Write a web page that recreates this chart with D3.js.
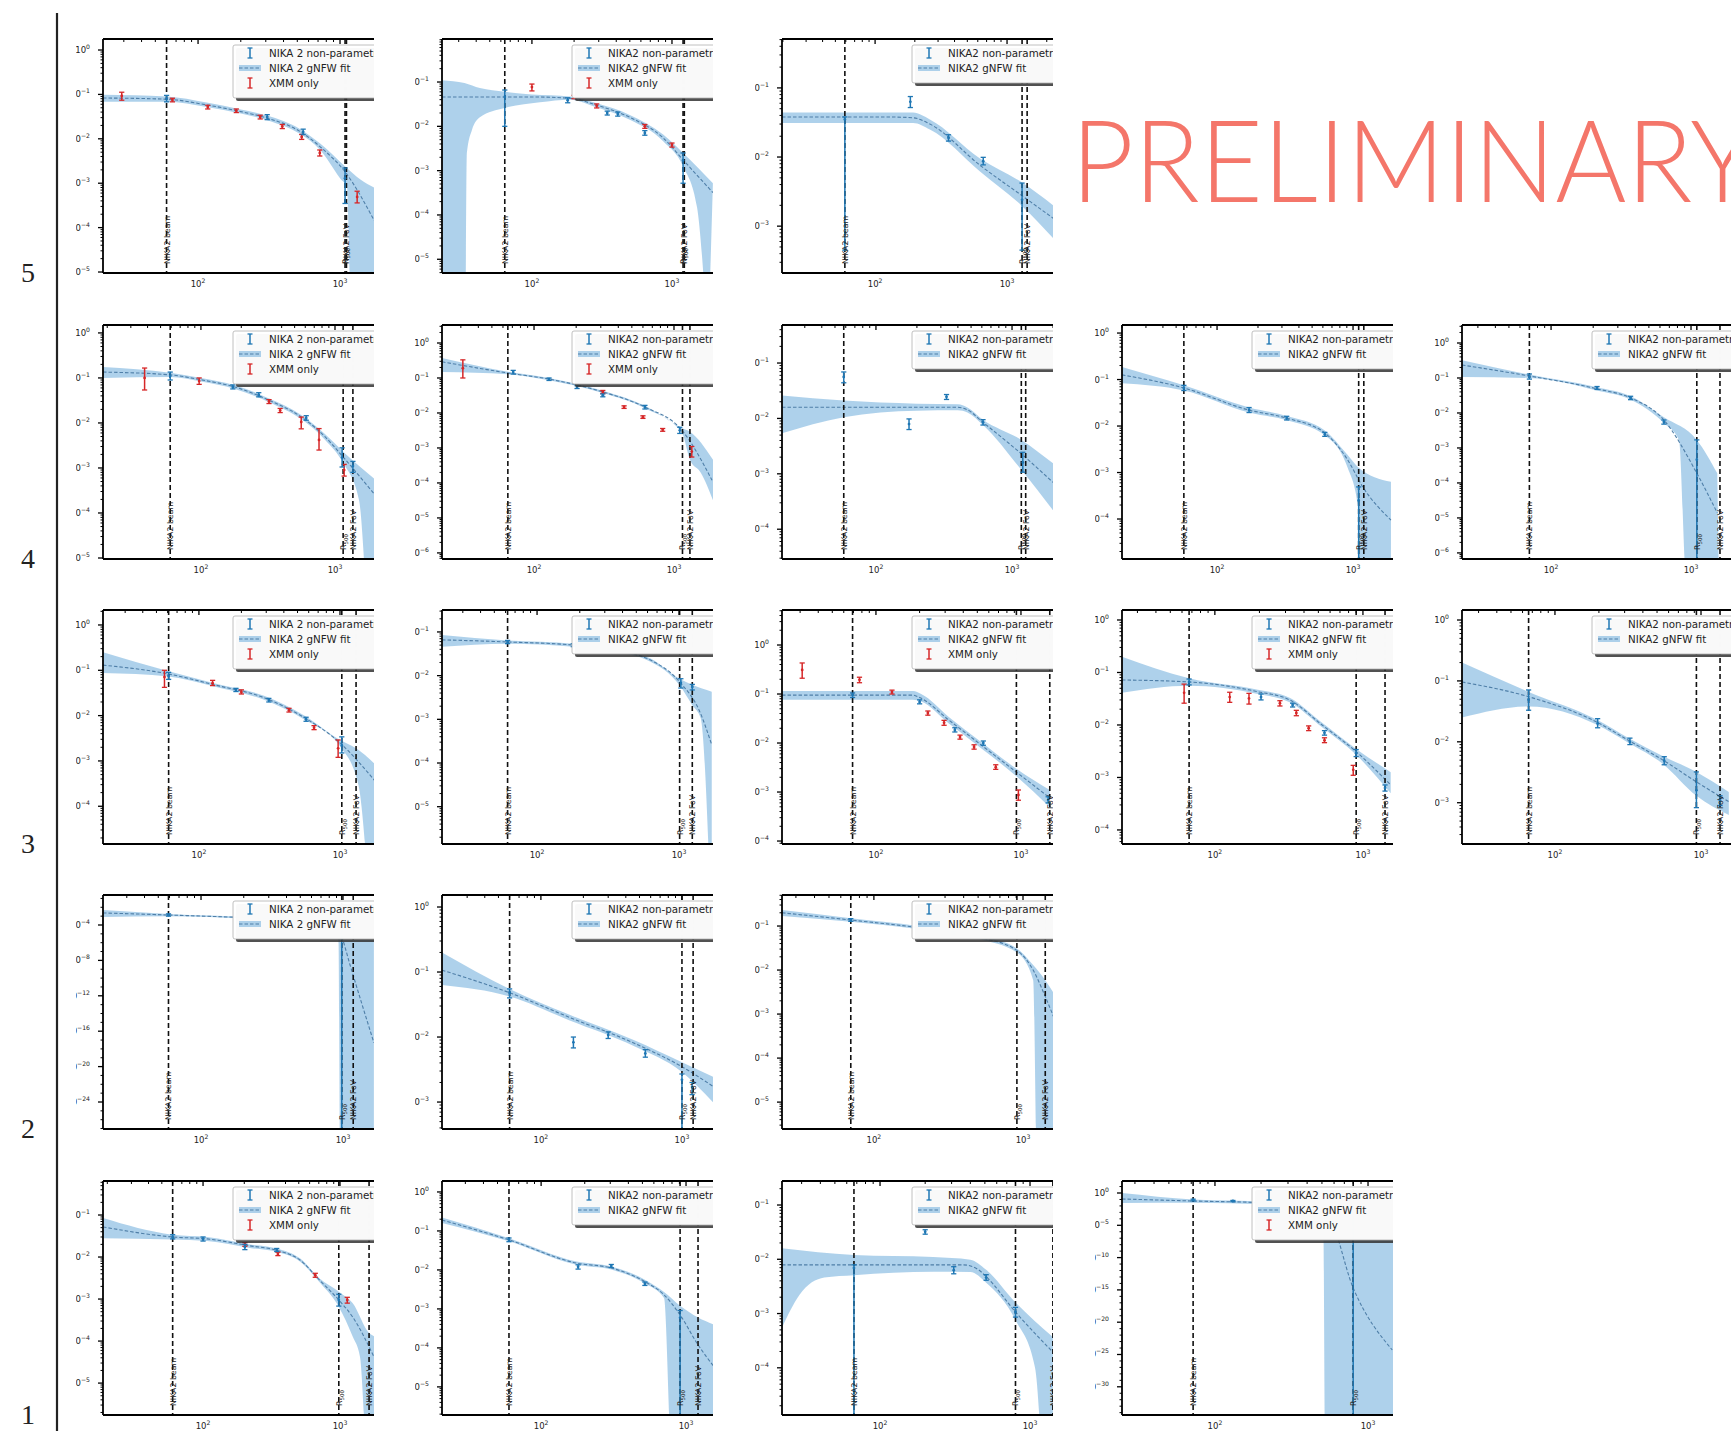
<!DOCTYPE html>
<html>
<head>
<meta charset="utf-8">
<script src="https://cdn.jsdelivr.net/npm/d3@7"></script>
<style>
  body { margin: 0; background: #fff; }
  svg { display: block; }
</style>
</head>
<body>
<svg id="fig" width="1731" height="1431"></svg>
<script>
// ---------------------------------------------------------------------------
// Pressure profiles P(r) of the cluster sample, grouped by row (5 .. 1).
// Panels are listed row by row, left to right.
// ---------------------------------------------------------------------------
const rowNames = ["5", "4", "3", "2", "1"];
const panelRow = [5,5,5, 4,4,4,4,4, 3,3,3,3,3, 2,2,2, 1,1,1,1];
const panelCol = [1,2,3, 1,2,3,4,5, 1,2,3,4,5, 1,2,3, 1,2,3,4];

// visible radius range of each panel [kpc]
const radiusRange = [
  [21.4,1735],[22.8,1963],[19.7,2230],
  [18.6,1954],[22.0,1900],[20.4,2000],[20.0,1967],[23.1,1995],
  [20.9,1742],[21.4,1735],[22.5,1663],[23.6,1596],[23.1,1656],
  [20.4,1653],[19.9,1660],[24.2,1589],
  [18.6,1771],[20.7,1535],[22.2,1423],[24.7,1456]
];
// pressure range of each panel [keV cm^-3]
const pressureRange = [
  [9.5e-6,1.77],[4.9e-6,0.935],[2.1e-4,0.51],
  [9.5e-6,1.5],[6.7e-7,3.27],[2.9e-5,0.486],[1.38e-5,1.49],[6.7e-7,3.27],
  [1.47e-5,2.14],[1.4e-6,0.318],[8.7e-5,5.18],[5.4e-5,1.55],[2.1e-4,1.46],
  [8.9e-28,0.245],[3.85e-4,1.53],[2.45e-6,0.507],
  [1.74e-6,0.645],[1.9e-6,1.91],[1.35e-5,0.277],[4.3e-35,72]
];
// labelled decades on the pressure axis
const pressureTicks = [
  [0,-1,-2,-3,-4,-5],[-1,-2,-3,-4,-5],[-1,-2,-3],
  [0,-1,-2,-3,-4,-5],[0,-1,-2,-3,-4,-5,-6],[-1,-2,-3,-4],[0,-1,-2,-3,-4],[0,-1,-2,-3,-4,-5,-6],
  [0,-1,-2,-3,-4],[-1,-2,-3,-4,-5],[0,-1,-2,-3,-4],[0,-1,-2,-3,-4],[0,-1,-2,-3],
  [-4,-8,-12,-16,-20,-24],[0,-1,-2,-3],[-1,-2,-3,-4,-5],
  [-1,-2,-3,-4,-5],[0,-1,-2,-3,-4,-5],[-1,-2,-3,-4],[0,-5,-10,-15,-20,-25,-30]
];
const radiusTicks = [100, 1000];

// reference radii [kpc]
const beamRadius = [60,64,59, 59,65,58,57,70, 61,62,69,67,66, 59,60,70, 60,60,67,72];
const r500Radius = [1085,1200,1300, 1150,1150,1170,1100,1100, 1030,1010,930,900,930, 980,1000,910, 980,910,800,800];
const fovRadius  = [1110,1225,1420, 1360,1300,1260,1200,1610, 1300,1240,1580,1410,1350, 1180,1200,1410, 1630,1210,1420,null];

// legend wording
const legendNika = ["NIKA 2","NIKA2","NIKA2", "NIKA 2","NIKA2","NIKA2","NIKA2","NIKA2",
                    "NIKA 2","NIKA2","NIKA2","NIKA2","NIKA2", "NIKA 2","NIKA2","NIKA2",
                    "NIKA 2","NIKA2","NIKA2","NIKA2"];
const legendXmm = [1,1,0, 1,1,0,0,0, 1,0,1,1,0, 0,0,0, 1,0,0,1];

// gNFW best fit [r, P]
const fitLine = [
  [[21.4,0.083],[60,0.078],[115,0.058],[200,0.041],[310,0.029],[525,0.0145],[725,0.0066],[1100,0.0017],[1760,1.35e-4]],
  [[22.8,0.046],[100,0.046],[187,0.043],[290,0.030],[500,0.016],[865,0.0055],[1200,0.00175],[1960,3.2e-4]],
  [[19.7,0.038],[120,0.038],[194,0.037],[260,0.03],[624,0.0076],[1320,0.0027],[2240,0.0013]],
  [[18.6,0.135],[59,0.117],[100,0.091],[179,0.063],[322,0.032],[560,0.0136],[845,0.0049],[1150,0.00175],[2040,2.3e-4]],
  [[22,0.29],[65,0.139],[128,0.093],[310,0.04],[620,0.0148],[1140,0.0032],[1870,1.2e-4]],
  [[20.4,0.0159],[400,0.0159],[470,0.0143],[612,0.0085],[1170,0.0023],[2000,7e-4]],
  [[20,0.126],[57,0.066],[172,0.022],[325,0.0148],[620,0.0071],[910,0.0019],[1180,4.9e-4],[1900,9.5e-5]],
  [[23.1,0.235],[70,0.114],[213,0.049],[370,0.027],[640,0.0063],[1100,1.9e-4],[1540,1.4e-5]],
  [[20.9,0.13],[61,0.083],[128,0.048],[293,0.0245],[550,0.0093],[1000,0.0025],[1800,3.4e-4]],
  [[21.4,0.066],[62,0.059],[180,0.05],[330,0.039],[625,0.023],[1010,0.0072],[1400,0.0015],[1700,2.6e-4]],
  [[22.5,0.095],[180,0.095],[200,0.085],[318,0.0295],[520,0.0096],[930,0.00255],[1580,7.6e-4]],
  [[23.6,0.072],[67,0.066],[195,0.043],[320,0.03],[530,0.01],[900,0.0031],[1540,7.2e-4]],
  [[23.1,0.096],[66,0.055],[194,0.021],[316,0.0107],[550,0.005],[930,0.0022],[1550,0.00104]],
  [[20.4,0.0023],[59,0.00135],[225,6.3e-4],[600,2.8e-4],[865,1.7e-4],[980,4.4e-6],[1120,3.2e-9],[1650,5e-18]],
  [[19.9,0.107],[60,0.048],[160,0.02],[455,0.0081],[1000,0.0035],[1690,0.0017]],
  [[24.2,0.2],[70,0.137],[207,0.09],[500,0.056],[910,0.028],[1170,0.01],[1410,0.0025],[1710,5e-4]],
  [[18.6,0.052],[60,0.03],[107,0.027],[220,0.0185],[345,0.0145],[510,0.0085],[710,0.0028],[980,9.5e-4],[1240,3.7e-4],[1771,4.2e-5]],
  [[20.7,0.19],[60,0.059],[175,0.015],[305,0.0112],[520,0.005],[705,0.0023],[910,7e-4],[1210,1.2e-4],[1580,3.1e-5]],
  [[22.2,0.0079],[360,0.0079],[450,0.0065],[510,0.0048],[800,0.00107],[1420,1.95e-4]],
  [[24.7,0.117],[72,0.058],[218,0.028],[438,0.0068],[540,8e-4],[800,2e-15],[1440,5e-25]]
];
// upper edge of the fit confidence band [r, P]
const bandUpper = [
  [[21.4,0.098],[60,0.09],[115,0.066],[200,0.046],[310,0.033],[525,0.0165],[725,0.0078],[1100,0.0023],[1400,0.0012],[1760,7.8e-4]],
  [[22.8,0.11],[33,0.095],[42.5,0.073],[64,0.06],[100,0.052],[187,0.047],[290,0.033],[500,0.018],[865,0.0065],[1200,0.0025],[1960,5.2e-4]],
  [[19.7,0.044],[194,0.044],[260,0.035],[624,0.0095],[1320,0.0042],[2240,0.002]],
  [[18.6,0.174],[59,0.13],[100,0.1],[179,0.069],[322,0.035],[560,0.015],[845,0.0056],[1150,0.0023],[2020,5.4e-4]],
  [[22,0.37],[65,0.15],[128,0.1],[310,0.043],[620,0.016],[1140,0.0037],[1300,0.0029],[1900,4.6e-4]],
  [[20.4,0.026],[58,0.021],[200,0.0185],[400,0.018],[470,0.0158],[612,0.0095],[1170,0.0041],[2000,0.00155]],
  [[20,0.186],[57,0.075],[172,0.025],[325,0.0165],[620,0.008],[910,0.0024],[1090,0.0013],[1900,6.3e-4]],
  [[23.1,0.32],[70,0.125],[213,0.054],[370,0.03],[640,0.0075],[1100,0.0017],[1540,1.9e-4]],
  [[20.9,0.25],[61,0.095],[128,0.052],[293,0.027],[550,0.0103],[1000,0.0029],[1300,0.0019],[1800,8.1e-4]],
  [[21.4,0.085],[62,0.064],[180,0.054],[330,0.042],[625,0.025],[1010,0.0085],[1240,0.0062],[1700,0.0043]],
  [[22.5,0.115],[180,0.115],[205,0.1],[318,0.034],[520,0.011],[930,0.003],[1580,0.0011]],
  [[23.6,0.2],[67,0.078],[195,0.047],[320,0.033],[530,0.011],[900,0.0035],[1540,0.00126]],
  [[23.1,0.2],[66,0.066],[194,0.023],[316,0.0117],[550,0.0058],[930,0.0032],[1550,0.0015]],
  [[20.4,0.005],[59,0.0018],[225,8e-4],[865,2.2e-4],[940,4e-5],[1000,2e-6],[1650,2e-6]],
  [[19.9,0.2],[60,0.055],[160,0.022],[455,0.009],[1000,0.0041],[1690,0.0024]],
  [[24.2,0.23],[70,0.15],[207,0.098],[500,0.061],[910,0.031],[1170,0.013],[1410,0.0059],[1710,0.0021]],
  [[18.6,0.085],[60,0.034],[107,0.03],[220,0.02],[345,0.016],[510,0.0093],[710,0.0031],[980,0.0015],[1240,7.9e-4],[1630,1.55e-4],[1771,1.3e-4]],
  [[20.7,0.22],[60,0.065],[175,0.0165],[305,0.0123],[520,0.0056],[705,0.0027],[910,0.0012],[1210,6e-4],[1580,3.9e-4]],
  [[22.2,0.016],[67,0.012],[226,0.011],[400,0.0098],[510,0.0064],[800,0.0016],[1420,3.7e-4]],
  [[24.7,1.0],[72,0.1],[218,0.045],[438,0.012],[510,0.004],[524,6.3e-5],[1456,6.3e-5]]
];
// lower edge of the fit confidence band [r, P]
const bandLower = [
  [[21.4,0.068],[60,0.068],[115,0.052],[200,0.037],[310,0.026],[525,0.0128],[725,0.0056],[1000,0.0013],[1120,8e-4],[1175,5e-6],[1250,1e-7],[1760,1e-8]],
  [[22.8,1e-9],[33,1e-9],[34.3,0.0025],[37.3,0.0083],[42.5,0.016],[64,0.026],[114,0.035],[187,0.04],[290,0.027],[500,0.014],[865,0.0046],[1200,0.00125],[1510,1.5e-4],[1810,1e-7]],
  [[19.7,0.031],[194,0.031],[260,0.025],[624,0.0062],[1320,0.0019],[2240,6.7e-4]],
  [[18.6,0.1],[59,0.105],[100,0.083],[179,0.057],[322,0.029],[560,0.0122],[845,0.0042],[1150,0.0013],[1510,1.95e-4],[1820,1e-7],[2040,1e-8]],
  [[22,0.148],[65,0.128],[128,0.086],[310,0.037],[620,0.0136],[1140,0.0027],[1300,4.6e-4],[1550,2e-4],[1900,3.2e-5]],
  [[20.4,0.0054],[58,0.0105],[200,0.0138],[400,0.014],[470,0.0128],[612,0.0076],[1170,0.00118],[2000,2.2e-4]],
  [[20,0.083],[57,0.058],[172,0.0195],[325,0.0133],[620,0.0063],[910,0.0013],[1090,1.8e-4],[1110,1e-7],[1900,1e-8]],
  [[23.1,0.107],[70,0.1],[213,0.044],[370,0.024],[640,0.0052],[820,0.0017],[930,1e-7],[1600,1e-8]],
  [[20.9,0.087],[61,0.073],[128,0.044],[293,0.022],[550,0.0084],[1000,0.0021],[1350,3e-4],[1700,1e-7],[1800,1e-8]],
  [[21.4,0.046],[62,0.054],[180,0.046],[330,0.036],[625,0.021],[1010,0.006],[1240,0.0021],[1420,0.00107],[1700,1e-8]],
  [[22.5,0.076],[180,0.076],[205,0.07],[318,0.025],[520,0.0082],[930,0.0021],[1580,4.9e-4]],
  [[23.6,0.041],[67,0.056],[195,0.039],[320,0.027],[530,0.009],[900,0.0027],[1540,5e-4]],
  [[23.1,0.025],[66,0.038],[194,0.019],[316,0.0097],[550,0.0043],[930,0.0013],[1550,6.3e-4]],
  [[20.4,8e-4],[59,0.001],[225,5e-4],[865,1.3e-4],[930,1e-6],[960,1e-40],[1650,1e-40]],
  [[19.9,0.063],[60,0.042],[160,0.018],[455,0.0073],[1000,0.0029],[1690,0.00095]],
  [[24.2,0.17],[70,0.125],[207,0.083],[500,0.051],[910,0.025],[1170,0.0059],[1250,1e-7],[1710,1e-8]],
  [[18.6,0.028],[60,0.026],[107,0.024],[220,0.0165],[345,0.0133],[510,0.0078],[710,0.0025],[980,6.5e-4],[1240,1.26e-4],[1400,4.2e-5],[1580,1e-7],[1771,1e-8]],
  [[20.7,0.16],[60,0.054],[175,0.0136],[305,0.0102],[520,0.0045],[705,0.0019],[800,1e-7],[1580,1e-8]],
  [[22.2,5.5e-4],[29,0.0022],[42.5,0.0046],[67,0.0051],[226,0.0059],[400,0.0058],[510,0.0037],[800,7.6e-4],[1080,1e-4],[1290,1e-7],[1420,1e-8]],
  [[24.7,0.028],[72,0.03],[218,0.017],[438,0.004],[510,0.001],[524,1e-40],[1456,1e-40]]
];
// NIKA2 non-parametric points [r, P, P_low, P_high]
const nikaPoints = [
  [[60,0.08,0.068,0.095],[307,0.031,0.027,0.035],[550,0.0144,0.0125,0.0165],[1085,0.0013,3.5e-4,0.0022]],
  [[64,0.046,0.01,0.066],[180,0.039,0.034,0.044],[345,0.020,0.018,0.022],[410,0.019,0.017,0.021],[640,0.0071,0.0063,0.008],[1200,0.0017,5.2e-4,0.0025]],
  [[59,0.035,4.5e-4,0.038],[185,0.063,0.052,0.075],[360,0.019,0.017,0.021],[660,0.0087,0.0077,0.0099],[1300,0.0024,4.5e-4,0.0042]],
  [[59,0.11,0.09,0.135],[173,0.063,0.057,0.07],[270,0.042,0.038,0.047],[610,0.0129,0.0115,0.0145],[1130,0.0017,0.00105,0.0028],[1360,0.0011,8e-4,0.0014]],
  [[71,0.148,0.13,0.165],[128,0.093,0.085,0.1],[203,0.055,0.05,0.06],[310,0.032,0.029,0.035],[620,0.0148,0.013,0.0165],[1100,0.0032,0.0026,0.0039]],
  [[58,0.056,0.044,0.069],[175,0.0079,0.0063,0.0098],[330,0.0245,0.022,0.027],[612,0.0085,0.0076,0.0095],[1200,0.0016,0.00107,0.00245]],
  [[57,0.066,0.058,0.075],[172,0.022,0.0195,0.025],[325,0.0148,0.0135,0.0162],[620,0.0066,0.006,0.0073],[1100,2.5e-4,1e-8,4.9e-4]],
  [[70,0.107,0.093,0.13],[213,0.052,0.047,0.057],[370,0.027,0.024,0.03],[640,0.0055,0.0048,0.0063],[1100,4.6e-4,1e-8,0.0017]],
  [[61,0.075,0.063,0.09],[183,0.037,0.034,0.04],[313,0.022,0.02,0.024],[575,0.0083,0.0075,0.0092],[1030,0.0022,0.0015,0.0034]],
  [[62,0.059,0.054,0.064],[180,0.05,0.046,0.054],[330,0.039,0.036,0.042],[1030,0.0068,0.0052,0.0085],[1240,0.0055,0.0047,0.0063]],
  [[69,0.095,0.085,0.105],[200,0.069,0.063,0.076],[350,0.0185,0.0168,0.0205],[550,0.01,0.009,0.011],[1540,6.9e-4,6e-4,8e-4]],
  [[67,0.066,0.058,0.075],[205,0.034,0.03,0.039],[335,0.024,0.022,0.026],[550,0.0071,0.0064,0.0078],[900,0.0029,0.0025,0.0034],[1410,6.3e-4,5.5e-4,7.2e-4]],
  [[66,0.049,0.033,0.071],[196,0.02,0.017,0.024],[326,0.01,0.009,0.0115],[560,0.0049,0.0042,0.0057],[930,0.0016,8.3e-4,0.0032],[1350,0.0011,9e-4,0.0013]],
  [[59,0.00135,0.001,0.0018],[980,4.4e-6,1e-40,2.7e-5]],
  [[60,0.048,0.04,0.055],[170,0.0083,0.0068,0.01],[300,0.0107,0.0095,0.012],[550,0.0056,0.0049,0.0064],[1000,0.0022,1e-6,0.0027],[1180,0.0017,0.0013,0.002]],
  [[70,0.137,0.128,0.147],[207,0.09,0.084,0.096],[340,0.069,0.064,0.074],[555,0.056,0.052,0.06]],
  [[60,0.03,0.027,0.034],[100,0.027,0.024,0.03],[202,0.0174,0.015,0.02],[345,0.0148,0.0135,0.016],[980,9.5e-4,6.8e-4,1.3e-3]],
  [[60,0.059,0.053,0.066],[180,0.012,0.0105,0.0135],[305,0.0126,0.0115,0.0138],[520,0.0044,0.004,0.0049],[910,5.9e-4,1e-8,9.1e-4]],
  [[67,0.0069,1e-8,0.0079],[200,0.032,0.029,0.035],[310,0.0063,0.0054,0.0073],[510,0.0046,0.0041,0.0052],[800,0.00107,8.6e-4,1.3e-3]],
  [[72,0.083,0.06,0.11],[131,0.058,0.045,0.07],[213,0.028,7.9e-4,0.25],[325,0.032,0.02,0.05],[525,0.0032,0.001,0.01],[800,6.3e-5,1e-40,4e-4]]
];
// XMM-only points [r, P, P_low, P_high]
const xmmPoints = [
  [[29,0.092,0.074,0.112],[66,0.075,0.068,0.082],[117,0.052,0.047,0.057],[186,0.043,0.039,0.047],[274,0.031,0.028,0.034],[392,0.019,0.017,0.021],[537,0.011,0.0097,0.0125],[720,0.0048,0.0041,0.0056],[1320,4.9e-4,3.6e-4,6.6e-4]],
  [[100,0.077,0.063,0.09],[200,0.046,0.042,0.05],[290,0.029,0.026,0.032],[640,0.01,0.009,0.011],[1000,0.0038,0.0034,0.0042]],
  [],
  [[38,0.1,0.054,0.166],[97,0.085,0.072,0.1],[322,0.03,0.027,0.033],[390,0.019,0.017,0.021],[560,0.0105,0.0074,0.0135],[760,0.0042,0.0025,0.0075],[1170,9e-4,6.6e-4,1.2e-3]],
  [[31,0.19,0.1,0.33],[310,0.04,0.036,0.044],[440,0.0148,0.0135,0.016],[600,0.0076,0.007,0.0083],[830,0.0033,0.003,0.0036],[1340,7.9e-4,5.5e-4,1.1e-3]],
  [], [], [],
  [[57,0.071,0.042,0.1],[125,0.052,0.046,0.06],[200,0.033,0.03,0.037],[435,0.0132,0.012,0.0145],[655,0.0054,0.0049,0.006],[970,0.0019,0.0012,0.0029]],
  [],
  [[31,0.31,0.21,0.43],[77,0.195,0.17,0.22],[129,0.11,0.1,0.12],[228,0.041,0.037,0.045],[295,0.026,0.023,0.029],[380,0.0132,0.012,0.0145],[475,0.0083,0.0075,0.0092],[670,0.0032,0.0029,0.0036],[960,8.7e-4,6.8e-4,1.1e-3]],
  [[62,0.041,0.026,0.06],[126,0.034,0.027,0.042],[170,0.032,0.025,0.04],[275,0.026,0.023,0.029],[355,0.017,0.015,0.019],[430,0.0087,0.0078,0.0096],[550,0.0051,0.0046,0.0057],[860,0.0014,0.0011,0.0017]],
  [], [], [], [],
  [[202,0.02,0.018,0.022],[352,0.0118,0.0108,0.013],[660,0.0037,0.0033,0.0041],[1130,9.5e-4,8e-4,1.1e-3]],
  [], [], []
];

// ---------------------------------------------------------------------------
// Layout and styling
// ---------------------------------------------------------------------------
const colLeft = [103, 442, 782, 1122, 1462];
const rowTop = { 5: 39, 4: 325, 3: 610, 2: 895, 1: 1181 };
const PW = 271, PH = 234;
const BLUE = "#1f77b4", RED = "#d62728", BAND = "#9ac6e6", FITLINE = "#4f7fa8";
const FONT = "DejaVu Sans, Liberation Sans, sans-serif";

const svg = d3.select("#fig");
const defs = svg.append("defs");

// row index rule
svg.append("line")
  .attr("x1", 57).attr("x2", 57).attr("y1", 13).attr("y2", 1431)
  .attr("stroke", "#222").attr("stroke-width", 2.2);

rowNames.forEach(n => {
  svg.append("text")
    .attr("x", 28).attr("y", rowTop[+n] + PH + 9)
    .attr("text-anchor", "middle")
    .attr("font-family", "Liberation Serif, DejaVu Serif, serif")
    .attr("font-size", 28).attr("fill", "#222")
    .text(n);
});

function supText(sel, base, exp) {
  sel.append("tspan").text(base);
  sel.append("tspan").attr("dy", -4).attr("font-size", "0.72em").text(exp);
}

function drawErrorbars(g, x, y, pts, color) {
  pts.forEach(([r, p, lo, hi]) => {
    const cx = x(r), cap = 2.6;
    g.append("line").attr("x1", cx).attr("x2", cx).attr("y1", y(lo)).attr("y2", y(hi))
      .attr("stroke", color).attr("stroke-width", 1.5);
    [lo, hi].forEach(v => {
      g.append("line").attr("x1", cx - cap).attr("x2", cx + cap).attr("y1", y(v)).attr("y2", y(v))
        .attr("stroke", color).attr("stroke-width", 1.3);
    });
    g.append("circle").attr("cx", cx).attr("cy", y(p)).attr("r", 1.4).attr("fill", color);
  });
}

panelRow.forEach((row, i) => {
  const left = colLeft[panelCol[i] - 1], top = rowTop[row];
  const outer = svg.append("g").attr("transform", `translate(${left},${top})`);

  defs.append("clipPath").attr("id", "crop" + i)
    .append("rect").attr("x", -27).attr("y", -9).attr("width", PW + 27).attr("height", PH + 28);
  defs.append("clipPath").attr("id", "plot" + i)
    .append("rect").attr("x", 0).attr("y", 0).attr("width", PW).attr("height", PH);

  const panel = outer.append("g").attr("clip-path", `url(#crop${i})`);
  const plot = panel.append("g").attr("clip-path", `url(#plot${i})`);

  const x = d3.scaleLog().domain(radiusRange[i]).range([0, PW]);
  const y = d3.scaleLog().domain(pressureRange[i]).range([PH, 0]);
  const line = d3.line().x(d => x(d[0])).y(d => y(d[1])).curve(d3.curveMonotoneX);

  // confidence band
  const upperPath = line(bandUpper[i]);
  const lowerPath = line(bandLower[i].slice().reverse());
  plot.append("path")
    .attr("d", upperPath + lowerPath.replace(/^M/, "L") + "Z")
    .attr("fill", BAND).attr("fill-opacity", 0.8).attr("stroke", "none");

  // best-fit profile
  plot.append("path").attr("d", line(fitLine[i]))
    .attr("fill", "none").attr("stroke", FITLINE).attr("stroke-width", 1.1)
    .attr("stroke-dasharray", "3.5,2");

  // reference radii
  const vlines = [[beamRadius[i], "beam"], [r500Radius[i], "r500"], [fovRadius[i], "fov"]]
    .filter(d => d[0] != null);
  vlines.forEach(([r]) => {
    plot.append("line").attr("x1", x(r)).attr("x2", x(r)).attr("y1", 0).attr("y2", PH)
      .attr("stroke", "#111").attr("stroke-width", 1.6).attr("stroke-dasharray", "5,3");
  });

  drawErrorbars(plot, x, y, xmmPoints[i], RED);
  drawErrorbars(plot, x, y, nikaPoints[i], BLUE);

  vlines.forEach(([r, kind]) => {
    const t = plot.append("text")
      .attr("transform", `translate(${x(r) + 3},${PH - 9}) rotate(-90)`)
      .attr("font-family", FONT).attr("font-size", 7.8).attr("fill", "#222");
    if (kind === "beam") t.text("NIKA2 beam");
    else if (kind === "fov") t.text("NIKA2 FoV");
    else {
      t.append("tspan").text("R");
      t.append("tspan").attr("dy", 2).attr("font-size", 5.5).text("500");
    }
  });

  // spines
  const ax = panel.append("g");
  ax.append("line").attr("x1", 0).attr("x2", PW + 5).attr("y1", 0).attr("y2", 0)
    .attr("stroke", "#000").attr("stroke-width", 1.8);
  ax.append("line").attr("x1", 0).attr("x2", PW + 5).attr("y1", PH).attr("y2", PH)
    .attr("stroke", "#000").attr("stroke-width", 1.8);
  ax.append("line").attr("x1", 0).attr("x2", 0).attr("y1", 0).attr("y2", PH)
    .attr("stroke", "#000").attr("stroke-width", 1.8);

  // radius ticks along the top spine
  const [rmin, rmax] = radiusRange[i];
  for (let d = Math.floor(Math.log10(rmin)); d <= Math.ceil(Math.log10(rmax)); d++) {
    for (let k = 1; k <= 9; k++) {
      const r = k * Math.pow(10, d);
      if (r < rmin || r > rmax) continue;
      const len = k === 1 ? 5 : 3;
      ax.append("line").attr("x1", x(r)).attr("x2", x(r)).attr("y1", 0).attr("y2", len)
        .attr("stroke", "#000").attr("stroke-width", k === 1 ? 1.3 : 1);
    }
  }
  radiusTicks.forEach(r => {
    const t = ax.append("text").attr("x", x(r)).attr("y", PH + 14)
      .attr("text-anchor", "middle").attr("font-family", FONT).attr("font-size", 8.5).attr("fill", "#222");
    supText(t, "10", String(Math.round(Math.log10(r))));
  });

  // pressure ticks along the left spine (pointing outward)
  const ticks = pressureTicks[i];
  const stride = ticks.length > 1 ? Math.abs(ticks[1] - ticks[0]) : 1;
  const [pmin, pmax] = pressureRange[i];
  for (let e = Math.floor(Math.log10(pmin)); e <= Math.ceil(Math.log10(pmax)); e++) {
    const ks = stride === 1 ? [1,2,3,4,5,6,7,8,9] : [1];
    ks.forEach(k => {
      const p = k * Math.pow(10, e);
      if (p < pmin || p > pmax) return;
      const major = k === 1 && ticks.includes(e);
      ax.append("line").attr("x1", major ? -5 : -2.5).attr("x2", 0).attr("y1", y(p)).attr("y2", y(p))
        .attr("stroke", "#000").attr("stroke-width", major ? 1.3 : 1);
    });
  }
  ticks.forEach(e => {
    const t = ax.append("text").attr("x", -13).attr("y", y(Math.pow(10, e)) + 3)
      .attr("text-anchor", "end").attr("font-family", FONT).attr("font-size", 8.5).attr("fill", "#222");
    supText(t, "10", e === 0 ? "0" : "\u2212" + Math.abs(e));
  });

  // legend
  const entries = [
    { kind: "nika", label: legendNika[i] + " non-parametric" },
    { kind: "fit", label: legendNika[i] + " gNFW fit" }
  ];
  if (legendXmm[i]) entries.push({ kind: "xmm", label: "XMM only" });
  const lx = 130, ly = 6, lh = 8 + entries.length * 15;
  const leg = panel.append("g");
  leg.append("rect").attr("x", lx + 3).attr("y", ly + 3).attr("width", 220).attr("height", lh)
    .attr("rx", 2).attr("fill", "#333").attr("fill-opacity", 0.85);
  leg.append("rect").attr("x", lx).attr("y", ly).attr("width", 220).attr("height", lh)
    .attr("rx", 2).attr("fill", "#fff").attr("fill-opacity", 0.97)
    .attr("stroke", "#b0b0b0").attr("stroke-width", 0.8);
  entries.forEach((en, k) => {
    const yc = ly + 8 + k * 15;
    const ix = lx + 17;
    if (en.kind === "fit") {
      leg.append("rect").attr("x", lx + 6).attr("y", yc - 3).attr("width", 22).attr("height", 6)
        .attr("fill", BAND).attr("fill-opacity", 0.8);
      leg.append("line").attr("x1", lx + 6).attr("x2", lx + 28).attr("y1", yc).attr("y2", yc)
        .attr("stroke", FITLINE).attr("stroke-width", 1.1).attr("stroke-dasharray", "3.5,2");
    } else {
      const c = en.kind === "nika" ? BLUE : RED;
      leg.append("line").attr("x1", ix).attr("x2", ix).attr("y1", yc - 5).attr("y2", yc + 5)
        .attr("stroke", c).attr("stroke-width", 1.5);
      [-5, 5].forEach(o => leg.append("line").attr("x1", ix - 2.5).attr("x2", ix + 2.5)
        .attr("y1", yc + o).attr("y2", yc + o).attr("stroke", c).attr("stroke-width", 1.3));
    }
    leg.append("text").attr("x", lx + 36).attr("y", yc + 3.6)
      .attr("font-family", FONT).attr("font-size", 10.3).attr("fill", "#222").text(en.label);
  });
});

// watermark
svg.append("text")
  .attr("x", 1071).attr("y", 202)
  .attr("font-family", "Lato, Open Sans, sans-serif").attr("font-weight", 300)
  .attr("font-size", 115).attr("fill", "#f4766a")
  .attr("textLength", 684).attr("lengthAdjust", "spacingAndGlyphs")
  .text("PRELIMINARY");
</script>
</body>
</html>
